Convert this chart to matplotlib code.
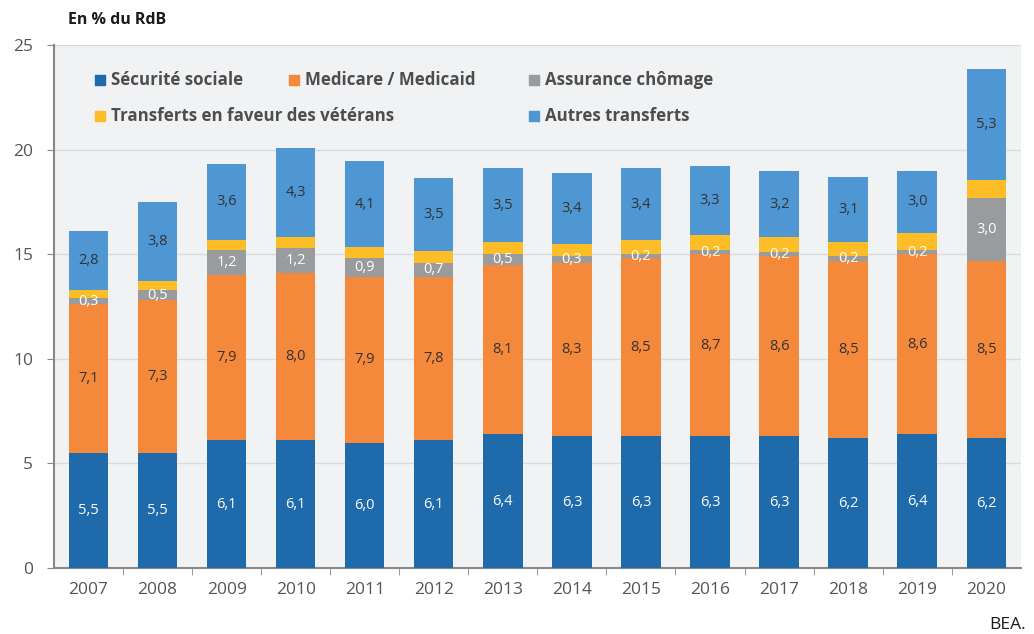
import numpy as np
import matplotlib.pyplot as plt

years = ['2007', '2008', '2009', '2010', '2011', '2012', '2013',
         '2014', '2015', '2016', '2017', '2018', '2019', '2020']
securite = [5.5, 5.5, 6.1, 6.1, 6.0, 6.1, 6.4, 6.3, 6.3, 6.3, 6.3, 6.2, 6.4, 6.2]
medicare = [7.1, 7.3, 7.9, 8.0, 7.9, 7.8, 8.1, 8.3, 8.5, 8.7, 8.6, 8.5, 8.6, 8.5]
chomage = [0.3, 0.5, 1.2, 1.2, 0.9, 0.7, 0.5, 0.3, 0.2, 0.2, 0.2, 0.2, 0.2, 3.0]
veterans = [0.4, 0.4, 0.5, 0.5, 0.55, 0.55, 0.6, 0.6, 0.7, 0.7, 0.7, 0.7, 0.8, 0.85]
autres = [2.8, 3.8, 3.6, 4.3, 4.1, 3.5, 3.5, 3.4, 3.4, 3.3, 3.2, 3.1, 3.0, 5.3]

series = [
    ('Sécurité sociale', securite, '#1f6aab', 'white', True),
    ('Medicare / Medicaid', medicare, '#f5893b', '#333333', True),
    ('Assurance chômage', chomage, '#999b9c', 'white', True),
    ('Transferts en faveur des vétérans', veterans, '#fdbd27', '#333333', False),
    ('Autres transferts', autres, '#4f97d2', '#333333', True),
]


def main():
    plt.rcParams['font.family'] = ['Open Sans', 'DejaVu Sans']

    fig = plt.figure(figsize=(10.34, 6.34), dpi=100)
    ax = fig.add_axes([0.0522, 0.104, 0.935, 0.825])
    ax.set_facecolor('#f1f2f4')

    x = np.arange(len(years))
    bottom = np.zeros(len(years))
    for name, vals, color, txtcol, show in series:
        vals = np.array(vals)
        ax.bar(x, vals, 0.57, bottom=bottom, color=color, zorder=3)
        if show:
            for xi, b, v in zip(x, bottom, vals):
                ax.text(xi, b + v / 2, f'{v:.1f}'.replace('.', ','), ha='center', va='center',
                        color=txtcol, fontsize=10.5, zorder=4)
        bottom += vals

    ax.set_xlim(-0.5, len(years) - 0.5)
    ax.set_ylim(0, 25)
    ax.set_yticks(range(0, 26, 5))
    ax.set_xticks(x)
    ax.set_xticklabels(years)
    ax.set_xticks(x[:-1] + 0.5, minor=True)
    ax.tick_params(axis='x', which='major', length=0, pad=10, labelsize=12.5, labelcolor='#555555')
    ax.tick_params(axis='x', which='minor', length=5, color='#888888')
    ax.tick_params(axis='y', length=5, color='#888888', labelsize=12.5, labelcolor='#555555', pad=10)
    ax.grid(axis='y', color='#d9dadc', linewidth=1, zorder=0)
    for side in ['top', 'right']:
        ax.spines[side].set_visible(False)
    for side in ['left', 'bottom']:
        ax.spines[side].set_color('#888888')
        ax.spines[side].set_linewidth(1.5)

    # legend drawn by hand: items flow like in the original
    spots = [(0.0475, 0.933), (0.2485, 0.933), (0.4965, 0.933),
             (0.0475, 0.864), (0.4965, 0.864)]
    for (name, vals, color, txtcol, show), (lx, ly) in zip(series, spots):
        ax.scatter([lx], [ly], s=52, marker='s', color=color, transform=ax.transAxes,
                   clip_on=False, zorder=5)
        ax.text(lx + 0.0115, ly, name, transform=ax.transAxes, va='center', ha='left',
                fontsize=12.2, fontweight='bold', color='#4d4d4d', zorder=5)

    fig.text(0.066, 0.968, 'En % du RdB', fontsize=11.5, fontweight='bold', color='#1a1a1a',
             va='center', ha='left')
    fig.text(0.992, 0.014, 'BEA.', fontsize=12.5, color='#1a1a1a', ha='right', va='center')

    fig.savefig('out.png', dpi=100)


if __name__ == '__main__':
    main()
